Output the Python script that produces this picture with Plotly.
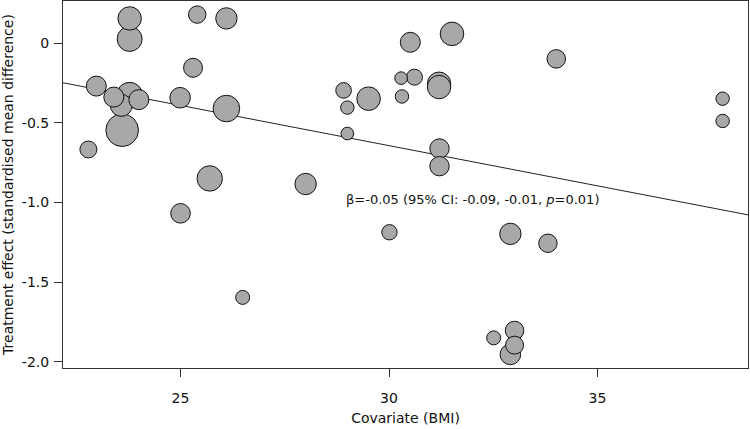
import plotly.graph_objects as go

# Study-level data
bmi = [23.78, 23.78, 25.40, 26.10, 25.30, 22.98, 23.40, 23.78, 23.58, 24.00,
       23.60, 24.99, 26.10, 22.79, 25.70, 25.00, 26.49, 30.51, 31.51, 30.29,
       30.61, 31.20, 31.20, 28.91, 29.00, 29.51, 30.31, 29.00, 31.21, 31.21,
       28.00, 30.01, 32.51, 34.01, 38.00, 38.00, 32.91, 33.81, 33.01, 33.01,
       32.91]
effect = [0.156, 0.027, 0.180, 0.156, -0.154, -0.269, -0.338, -0.327, -0.390, -0.354,
          -0.546, -0.342, -0.410, -0.667, -0.849, -1.068, -1.596, 0.006, 0.059, -0.219,
          -0.213, -0.254, -0.275, -0.296, -0.404, -0.348, -0.334, -0.567, -0.661, -0.772,
          -0.884, -1.187, -1.850, -0.098, -0.348, -0.488, -1.197, -1.256, -1.804, -1.896,
          -1.954]
weights = [13.7, 15.6, 7.6, 11.4, 9.0, 10.0, 10.0, 16.9, 12.1, 10.0,
           26.6, 10.6, 17.7, 7.2, 16.1, 9.6, 4.9, 10.0, 13.9, 4.0,
           6.4, 13.7, 13.7, 6.1, 4.5, 13.9, 4.5, 4.0, 9.4, 9.4,
           11.4, 5.9, 4.9, 8.6, 4.5, 4.5, 11.4, 8.5, 8.6, 8.1,
           10.6]

intercept = 0.872
slope = -0.0505
annotation_text = "β=-0.05 (95% CI: -0.09, -0.01, <i>p</i>=0.01)"
ann_x, ann_y = 32.0, -0.98

x_ticks = [25, 30, 35]
y_ticks = [0, -0.5, -1.0, -1.5, -2.0]
y_tick_text = ["0", "-0.5", "-1.0", "-1.5", "-2.0"]

# R-style 4% axis extension
def extend(vals):
    lo, hi = min(vals), max(vals)
    d = (hi - lo) * 0.04
    return [lo - d, hi + d]

xr = extend(bmi)
yr = extend(effect)

# draw larger bubbles first so smaller ones sit on top
order = sorted(range(len(bmi)), key=lambda i: -weights[i])
xs = [bmi[i] for i in order]
ys = [effect[i] for i in order]
ws = [weights[i] for i in order]

font = "DejaVu Sans"
fig = go.Figure()
fig.add_trace(go.Scatter(
    x=xr, y=[intercept + slope * v for v in xr], mode="lines",
    line=dict(color="#222222", width=1), hoverinfo="skip", showlegend=False))
fig.add_trace(go.Scatter(
    x=xs, y=ys, mode="markers",
    marker=dict(size=ws, sizemode="area", sizeref=0.05, color="#A8A8A8",
                line=dict(color="#111111", width=1), opacity=1),
    showlegend=False))

fig.add_annotation(x=ann_x, y=ann_y, text=annotation_text, showarrow=False,
                   font=dict(family=font, size=13, color="#111111"),
                   xanchor="center", yanchor="middle")

fig.update_layout(
    width=750, height=429,
    margin=dict(l=63, r=2, t=1, b=61),
    paper_bgcolor="white", plot_bgcolor="white",
    font=dict(family=font, size=14, color="#111111"),
)
fig.update_xaxes(range=xr, tickvals=x_ticks, ticks="outside", ticklen=8,
                 tickcolor="#333333", showgrid=False, zeroline=False, automargin=False,
                 showline=True, linecolor="#333333", linewidth=1, mirror=True,
                 ticklabelstandoff=9,
                 title=dict(text="Covariate (BMI)", font=dict(size=14), standoff=8),
                 tickfont=dict(size=14))
fig.update_yaxes(range=yr, tickvals=y_ticks, ticktext=y_tick_text, ticks="outside",
                 ticklen=8, tickcolor="#333333", showgrid=False, zeroline=False,
                 automargin=False, ticklabelstandoff=2,
                 showline=True, linecolor="#333333", linewidth=1, mirror=True,
                 title=dict(text="Treatment effect (standardised mean difference)",
                            font=dict(size=14), standoff=6),
                 tickfont=dict(size=14))

fig.write_html("out.html", config={"displayModeBar": False},
               post_script="document.body.style.margin='0px';")
